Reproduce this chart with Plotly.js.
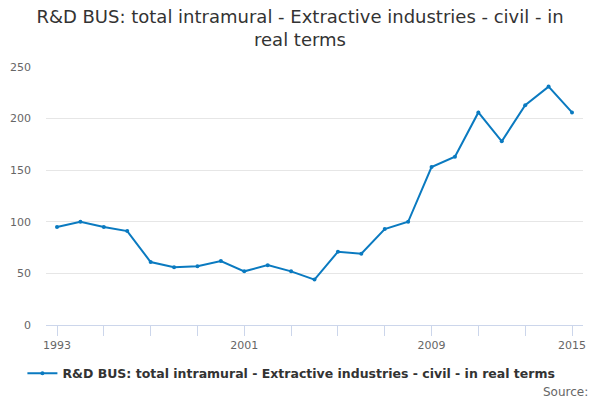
<!DOCTYPE html>
<html>
<head>
<meta charset="utf-8">
<script src="https://cdn.plot.ly/plotly-3.0.1.min.js"></script>
<style>html,body{margin:0;padding:0;background:#fff;}#chart{width:600px;height:400px;}</style>
</head>
<body>
<div id="chart"></div>
<script>
var years = [1993,1994,1995,1996,1997,1998,1999,2000,2001,2002,2003,2004,2005,2006,2007,2008,2009,2010,2011,2012,2013,2014,2015];
var values = [95,100,95,91,61,56,57,62,52,58,52,44,71,69,93,100,153,163,206,178,213,231,206];
var seriesName = "R&D BUS: total intramural - Extractive industries - civil - in real terms";
var tickYears = [1993,1995,1997,1999,2001,2003,2005,2007,2009,2011,2013,2015];
var tickLabels = ["1993","","","","2001","","","","2009","","","2015"];
var yTicks = [0,50,100,150,200,250];

var trace = {
  x: years, y: values, name: seriesName, type: "scatter", mode: "lines+markers",
  line: {color: "#0a7ac0", width: 2},
  marker: {color: "#0a7ac0", size: 4},
  showlegend: true
};
var layout = {
  width: 600, height: 400,
  margin: {l: 46, r: 17, t: 67, b: 73},
  paper_bgcolor: "#fff", plot_bgcolor: "#fff",
  font: {family: "DejaVu Sans, sans-serif", color: "#333"},
  title: {text: "R&D BUS: total intramural - Extractive industries - civil - in<br>real terms",
          font: {size: 18, color: "#333", family: "DejaVu Sans, sans-serif"},
          x: 0.5, xanchor: "center", yref: "container", y: 0.943, yanchor: "middle"},
  xaxis: {
    range: [1992.53, 2015.47], tickmode: "array", tickvals: tickYears, ticktext: tickLabels,
    showgrid: false, zeroline: false, showline: true, linecolor: "#ccd6eb", linewidth: 1,
    ticks: "outside", ticklen: 10, tickcolor: "#ccd6eb", tickwidth: 1,
    tickfont: {size: 11, color: "#666"}, fixedrange: true
  },
  yaxis: {
    range: [0, 250], tickmode: "array", tickvals: yTicks,
    showgrid: true, gridcolor: "#e6e6e6", gridwidth: 1, zeroline: false, showline: false,
    ticks: "", ticklabelstandoff: 14,
    tickfont: {size: 11, color: "#666"}, fixedrange: true
  },
  legend: {orientation: "h", x: 0.457, xanchor: "center", y: -0.13, yanchor: "top",
           font: {size: 12.5, color: "#333", weight: "bold"}},
  annotations: [{text: "Source:", xref: "paper", yref: "paper", x: 1.013, y: -0.225,
                 xanchor: "right", yanchor: "top", showarrow: false,
                 font: {size: 12, color: "#666"}}]
};
Plotly.newPlot("chart", [trace], layout, {displayModeBar: false, staticPlot: true});
</script>
</body>
</html>
